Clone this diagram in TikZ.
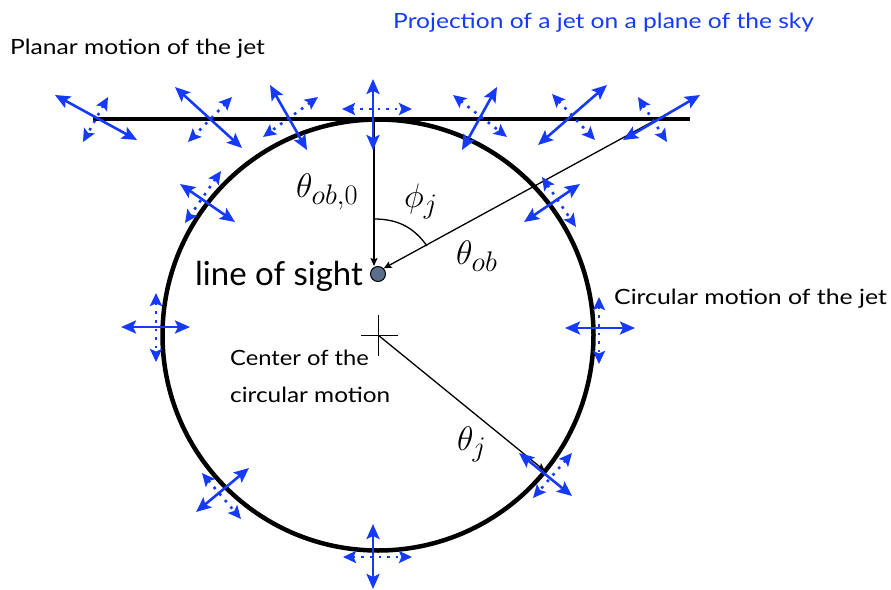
\documentclass[tikz,border=0pt]{standalone}
\usepackage[no-math]{fontspec}
\setmainfont{Lato}
\usetikzlibrary{arrows.meta}
\definecolor{jetblue}{RGB}{22,58,250}
\definecolor{dotfill}{RGB}{88,110,140}
\tikzset{
  jet/.style={draw=jetblue, line width=2.6pt,
    {Stealth[length=15pt,width=13pt,inset=3pt]}-{Stealth[length=15pt,width=13pt,inset=3pt]}},
  jetdot/.style={draw=jetblue, line width=2.6pt, dash pattern=on 2.6pt off 6pt,
    {Stealth[length=13pt,width=12pt,inset=2.5pt]}-{Stealth[length=13pt,width=12pt,inset=2.5pt]}},
  thinline/.style={draw=black, line width=1.3pt},
  thinarrow/.style={thinline, -{Stealth[length=8pt,width=7pt,inset=1.5pt]}},
  lbl/.style={anchor=base west, inner sep=0pt, font=\fontsize{21}{24}\selectfont},
  mlbl/.style={anchor=base west, inner sep=0pt, font=\fontsize{24.88}{30}\selectfont},
}
\newcommand\bigmath[1]{\scalebox{1.367}{$#1$}}
\begin{document}
\begin{tikzpicture}[x=1pt,y=-1pt]
\useasboundingbox (0,0) rectangle (891,589);
% main shapes
\coordinate (C) at (378,335);
\draw[line width=4.5pt] (C) circle (215.5);
\draw[line width=4.5pt] (93,119) -- (690,119);
% center cross
\draw[line width=0.9pt] (378,315) -- (378,356);
\draw[line width=0.9pt] (361,335) -- (398,335);
% line of sight dot
\node[circle, draw=black, fill=dotfill, line width=1pt, minimum size=15pt, inner sep=0pt] (los) at (378,274) {};
\coordinate (jet7) at (661,117);
\coordinate (circpt) at (545,471);
\coordinate (vtop) at (374,121);
\coordinate (vend) at (374,266);
\draw[thinarrow] (vtop) -- (vend);
\draw[thinarrow] (jet7) -- (los.north east);
\draw[thinarrow] (C) -- (circpt);
% phi arc
\draw[thinline] (374,219) to[out=0,in=125] (427,246);
% planar jet markers
\draw[jet] (55,95) -- (137,140);
\draw[jetdot] (108,97) -- (83,142);
\draw[jet] (175,87) -- (242,148);
\draw[jetdot] (232,97) -- (188,142);
\draw[jet] (270,85) -- (307,150);
\draw[jetdot] (318,97) -- (263,137);
\draw[jet] (373,79) -- (373,150);
\draw[jetdot] (342,109) -- (412,109);
\draw[jet] (497,87) -- (462,150);
\draw[jetdot] (453,95) -- (507,137);
\draw[jet] (607,85) -- (538,145);
\draw[jetdot] (552,94) -- (595,140);
\draw[jet] (700,95) -- (623,140);
\draw[jetdot] (638,97) -- (667,142);
% circular jet markers
\draw[jet] (180,184) -- (235,222);
\draw[jetdot] (221,171) -- (185,223);
\draw[jet] (580,184) -- (524,222);
\draw[jetdot] (542,177) -- (576,227);
\draw[jet] (121,327) -- (190,327);
\draw[jetdot] (156,293) -- (156,362);
\draw[jet] (565,328) -- (635,328);
\draw[jetdot] (599,297) -- (599,364);
\draw[jet] (249,468) -- (196,512);
\draw[jetdot] (202,473) -- (241,519);
\draw[jet] (373,524) -- (373,589);
\draw[jetdot] (343,557) -- (412,557);
\draw[jet] (519,453) -- (572,496);
\draw[jetdot] (572,453) -- (533,498);
% texts
\node[lbl] (t1) at (10,54) {\scalebox{1.17}[1]{Planar motion of the jet}};
\node[lbl, text=jetblue] (t2) at (393,28) {\scalebox{1.17}[1]{Projection of a jet on a plane of the sky}};
\node[lbl] (t3) at (614,304) {\scalebox{1.18}[1]{Circular motion of the jet}};
\node[anchor=base west, inner sep=0pt, font=\fontsize{33}{38}\selectfont] (t4) at (195,285) {line of sight};
\node[lbl] (t5) at (230,365) {\scalebox{1.13}[1]{Center of the}};
\node[lbl] (t6) at (230,402) {\scalebox{1.16}[1]{circular motion}};
\node[mlbl] (m1) at (296,197) {\bigmath{\theta_{ob,0}}};
\node[mlbl] (m2) at (404,207) {\bigmath{\phi_j}};
\node[mlbl] (m3) at (456,264) {\bigmath{\theta_{ob}}};
\node[mlbl] (m4) at (457,450) {\bigmath{\theta_j}};
\end{tikzpicture}
\end{document}
